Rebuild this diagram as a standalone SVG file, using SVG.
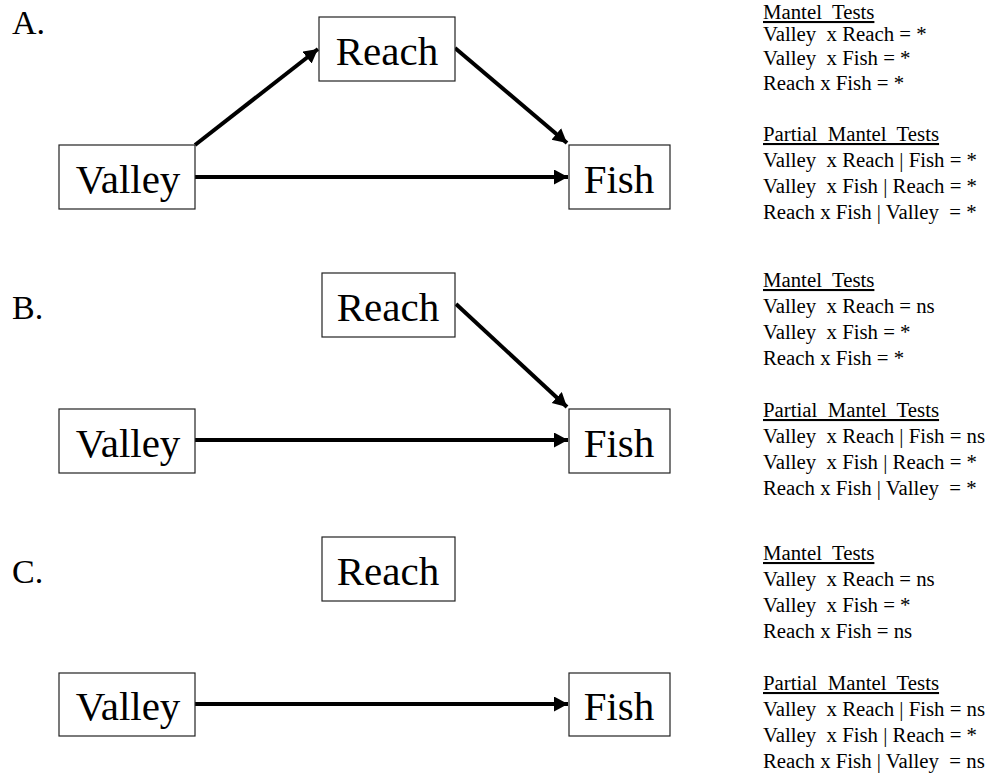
<svg xmlns="http://www.w3.org/2000/svg" width="992" height="773" viewBox="0 0 992 773">
<style>
.box{fill:#fff;stroke:#222;stroke-width:1.2}
.nt{font-family:"Liberation Serif","Times New Roman",serif;font-size:41px;fill:#000;text-anchor:middle}
.lb{font-family:"Liberation Serif","Times New Roman",serif;font-size:34px;fill:#000}
.rt{font-family:"Liberation Serif","Times New Roman",serif;font-size:20.8px;fill:#000;white-space:pre}
.u{text-decoration:underline}
.ar{stroke:#000;stroke-width:4;fill:none;marker-end:url(#ah)}
</style>
<defs>
<marker id="ah" markerUnits="userSpaceOnUse" markerWidth="16" markerHeight="16" refX="14" refY="7.5" orient="auto">
<path d="M0,0 L14,7.5 L0,15 Z" fill="#000"/>
</marker>
</defs>
<rect width="992" height="773" fill="#fff"/>
<g id="labels">
<text class="lb" x="12" y="34">A.</text>
<text class="lb" x="12" y="319">B.</text>
<text class="lb" x="12" y="583">C.</text>
</g>
<g id="connectors">
<line class="ar" x1="195" y1="177" x2="568" y2="177"/>
<line class="ar" x1="195" y1="145" x2="318" y2="49"/>
<line class="ar" x1="455" y1="48" x2="567" y2="143"/>
<line class="ar" x1="195" y1="440" x2="568" y2="440"/>
<line class="ar" x1="456" y1="304" x2="567" y2="407"/>
<line class="ar" x1="195" y1="704" x2="568" y2="704"/>
</g>
<g id="A-valley"><rect class="box" x="59" y="145" width="136" height="64"/><text class="nt" x="128" y="193">Valley</text></g>
<g id="A-reach"><rect class="box" x="319" y="17" width="136" height="64"/><text class="nt" x="387" y="65">Reach</text></g>
<g id="A-fish"><rect class="box" x="569" y="145" width="101" height="64"/><text class="nt" x="619" y="193">Fish</text></g>
<g id="B-valley"><rect class="box" x="59" y="409" width="136" height="64"/><text class="nt" x="128" y="457">Valley</text></g>
<g id="B-reach"><rect class="box" x="322" y="273" width="133" height="64"/><text class="nt" x="388" y="321">Reach</text></g>
<g id="B-fish"><rect class="box" x="569" y="409" width="101" height="64"/><text class="nt" x="619" y="457">Fish</text></g>
<g id="C-valley"><rect class="box" x="59" y="673" width="136" height="63"/><text class="nt" x="128" y="720">Valley</text></g>
<g id="C-reach"><rect class="box" x="322" y="537" width="133" height="64"/><text class="nt" x="388" y="585">Reach</text></g>
<g id="C-fish"><rect class="box" x="569" y="673" width="101" height="63"/><text class="nt" x="619" y="720">Fish</text></g>
<g id="A-stats">
<text class="rt u" x="763" y="19">Mantel  Tests</text>
<text class="rt" x="763" y="41">Valley  x Reach = *</text>
<text class="rt" x="763" y="65">Valley  x Fish = *</text>
<text class="rt" x="763" y="90">Reach x Fish = *</text>
<text class="rt u" x="763" y="141">Partial  Mantel  Tests</text>
<text class="rt" x="763" y="167">Valley  x Reach | Fish = *</text>
<text class="rt" x="763" y="193">Valley  x Fish | Reach = *</text>
<text class="rt" x="763" y="219">Reach x Fish | Valley  = *</text>
</g>
<g id="B-stats">
<text class="rt u" x="763" y="287">Mantel  Tests</text>
<text class="rt" x="763" y="313">Valley  x Reach = ns</text>
<text class="rt" x="763" y="339">Valley  x Fish = *</text>
<text class="rt" x="763" y="365">Reach x Fish = *</text>
<text class="rt u" x="763" y="417">Partial  Mantel  Tests</text>
<text class="rt" x="763" y="443">Valley  x Reach | Fish = ns</text>
<text class="rt" x="763" y="469">Valley  x Fish | Reach = *</text>
<text class="rt" x="763" y="495">Reach x Fish | Valley  = *</text>
</g>
<g id="C-stats">
<text class="rt u" x="763" y="560">Mantel  Tests</text>
<text class="rt" x="763" y="586">Valley  x Reach = ns</text>
<text class="rt" x="763" y="612">Valley  x Fish = *</text>
<text class="rt" x="763" y="638">Reach x Fish = ns</text>
<text class="rt u" x="763" y="690">Partial  Mantel  Tests</text>
<text class="rt" x="763" y="716">Valley  x Reach | Fish = ns</text>
<text class="rt" x="763" y="742">Valley  x Fish | Reach = *</text>
<text class="rt" x="763" y="768">Reach x Fish | Valley  = ns</text>
</g>
</svg>
